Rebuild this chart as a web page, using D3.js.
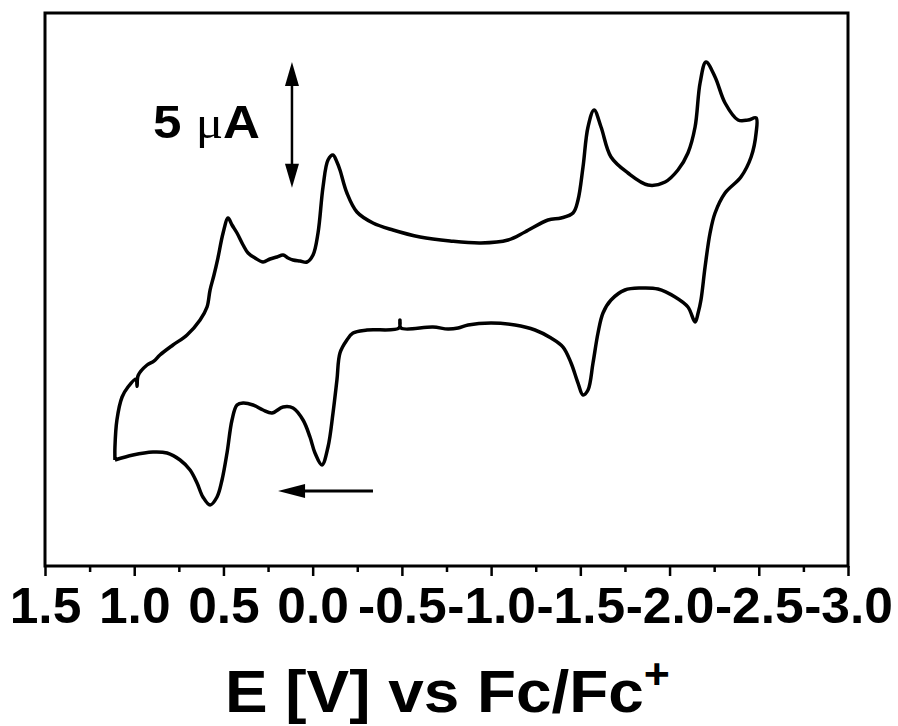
<!DOCTYPE html>
<html>
<head>
<meta charset="utf-8">
<script src="https://cdn.jsdelivr.net/npm/d3@7"></script>
<style>
  html, body { margin: 0; padding: 0; background: #fff; }
  svg { display: block; }
</style>
</head>
<body>
<svg id="chart" width="898" height="726"></svg>
<script>
// Cyclic voltammogram: potential E (V vs Fc/Fc+) and current I (µA)

// Forward sweep (toward negative potentials), upper branch
const forwardE = [1.108, 1.108, 1.097, 1.068, 1.035, 0.990, 0.984, 0.978, 0.928, 0.890, 0.856, 0.783, 0.704,
  0.631, 0.592, 0.575, 0.553, 0.531, 0.502, 0.474, 0.452, 0.424, 0.390,
  0.362, 0.323, 0.278, 0.239, 0.200, 0.166, 0.138, 0.110, 0.071, 0.032,
  -0.002, -0.030, -0.058, -0.086, -0.114, -0.136, -0.153, -0.192, -0.248, -0.338,
  -0.450, -0.602, -0.770, -0.943, -1.095, -1.190, -1.319, -1.392, -1.459, -1.487,
  -1.515, -1.543, -1.577, -1.616, -1.672, -1.767, -1.879, -1.975, -2.047, -2.103,
  -2.143, -2.171, -2.204, -2.255, -2.311, -2.384, -2.440, -2.485];
const forwardI = [-6.783, -6.266, -5.192, -4.277, -3.879, -3.560, -3.850, -3.420, -3.004, -2.850, -2.606, -2.208, -1.810,
  -1.213, -0.696, -0.020, 0.577, 1.253, 2.248, 2.845, 2.566, 2.248, 1.770,
  1.452, 1.253, 1.094, 1.213, 1.293, 1.373, 1.253, 1.174, 1.134, 1.094,
  1.373, 2.248, 4.078, 5.152, 5.351, 5.072, 4.754, 3.839, 3.083, 2.646,
  2.367, 2.089, 1.930, 1.850, 1.969, 2.288, 2.765, 2.845, 3.043, 3.561,
  4.874, 6.465, 7.141, 6.465, 5.271, 4.635, 4.157, 4.277, 4.754, 5.431,
  6.465, 8.215, 9.051, 8.454, 7.420, 6.743, 6.743, 6.823];

// Reverse sweep (back toward positive potentials), lower branch
const reverseE = [-2.485, -2.485, -2.457, -2.400, -2.311, -2.255, -2.227, -2.199, -2.176, -2.160,
  -2.143, -2.103, -2.031, -1.935, -1.840, -1.750, -1.672, -1.627, -1.599, -1.571,
  -1.543, -1.515, -1.487, -1.448, -1.403, -1.336, -1.246, -1.134, -0.999, -0.871,
  -0.815, -0.758, -0.674, -0.495, -0.489, -0.484, -0.305, -0.226, -0.192, -0.153,
  -0.136, -0.114, -0.086, -0.052, -0.013, 0.015, 0.054, 0.110, 0.166, 0.228,
  0.278, 0.334, 0.390, 0.424, 0.452, 0.480, 0.508, 0.536, 0.575, 0.615,
  0.648, 0.687, 0.743, 0.816, 0.895, 1.007, 1.108];
const reverseI = [6.823, 6.226, 5.271, 4.476, 3.839, 3.043, 2.248, 0.895, -0.418, -0.935,
  -1.293, -0.696, -0.298, 0.020, 0.060, -0.020, -0.418, -0.935, -1.731, -2.924,
  -3.998, -4.197, -3.720, -2.924, -2.288, -1.930, -1.611, -1.412, -1.333, -1.412,
  -1.532, -1.571, -1.492, -1.532, -1.213, -1.532, -1.611, -1.731, -2.009, -2.526,
  -3.600, -4.913, -6.266, -6.982, -6.505, -5.868, -5.192, -4.714, -4.675, -4.913,
  -4.794, -4.595, -4.516, -4.595, -5.192, -6.505, -7.579, -8.255, -8.573, -8.255,
  -7.698, -7.181, -6.783, -6.505, -6.465, -6.584, -6.783];

// Axis ticks
const majorTicks = [1.5, 1.0, 0.5, 0.0, -0.5, -1.0, -1.5, -2.0, -2.5, -3.0];
const minorTicks = [1.25, 0.75, 0.25, -0.25, -0.75, -1.25, -1.75, -2.25, -2.75];

// Annotations
const scaleBarCurrent = 5;          // µA
const scaleBarLabel = "5 ";
const axisTitle = "E [V] vs Fc/Fc";
const axisTitleSup = "+";

const svg = d3.select("#chart");
const plotL = 45, plotR = 848, plotT = 13, plotB = 566;

const x = d3.scaleLinear().domain([1.5, -3.0]).range([plotL, plotR]);
const y = d3.scaleLinear().domain([-11, 11]).range([plotB, plotT]);

const sweep = d3.line()
  .x(d => x(d[0]))
  .y(d => y(d[1]))
  .curve(d3.curveCatmullRom.alpha(0.5));

const fwd = forwardE.map((e, i) => [e, forwardI[i]]);
const rev = reverseE.map((e, i) => [e, reverseI[i]]);

svg.append("path")
  .datum(fwd.concat(rev.slice(1)))
  .attr("d", sweep)
  .attr("fill", "none")
  .attr("stroke", "#000")
  .attr("stroke-width", 3.5)
  .attr("stroke-linejoin", "round");

// Frame
svg.append("rect")
  .attr("x", plotL).attr("y", plotT)
  .attr("width", plotR - plotL).attr("height", plotB - plotT)
  .attr("fill", "none").attr("stroke", "#000").attr("stroke-width", 3);

// Bottom axis: major ticks with labels, minor ticks without
const axisMajor = d3.axisBottom(x)
  .tickValues(majorTicks)
  .tickSize(10)
  .tickPadding(12)
  .tickFormat(d => d.toFixed(1));
const gMajor = svg.append("g").attr("transform", `translate(0,${plotB})`).call(axisMajor);
gMajor.select(".domain").remove();
gMajor.selectAll(".tick line").attr("stroke", "#000").attr("stroke-width", 2.5);
gMajor.selectAll(".tick text")
  .attr("fill", "#000")
  .attr("y", null).attr("dy", null)
  .attr("transform", "translate(0,57)")
  .style("font-family", "'Liberation Sans', Arial, sans-serif")
  .style("font-weight", "bold")
  .style("font-size", "50px")
  .each(function () {
    const w = this.getComputedTextLength();
    d3.select(this).attr("textLength", w * 1.03).attr("lengthAdjust", "spacingAndGlyphs");
  });

const axisMinor = d3.axisBottom(x).tickValues(minorTicks).tickSize(6).tickFormat("");
const gMinor = svg.append("g").attr("transform", `translate(0,${plotB})`).call(axisMinor);
gMinor.select(".domain").remove();
gMinor.selectAll(".tick line").attr("stroke", "#000").attr("stroke-width", 2.5);

// Axis title
const title = svg.append("text")
  .attr("x", (plotL + plotR) / 2 + 1)
  .attr("y", 712)
  .attr("text-anchor", "middle")
  .attr("textLength", 445)
  .attr("lengthAdjust", "spacingAndGlyphs")
  .style("font-family", "'Liberation Sans', Arial, sans-serif")
  .style("font-weight", "bold")
  .style("font-size", "60px")
  .text(axisTitle);
title.append("tspan")
  .attr("dy", -24)
  .style("font-size", "42px")
  .text(axisTitleSup);

// Scale bar: vertical double arrow for 5 µA
const barE = 0.116, barTop = 9.05;
const bx = x(barE), by1 = y(barTop), by2 = y(barTop - scaleBarCurrent);
const headL = 24, headW = 7;
svg.append("line")
  .attr("x1", bx).attr("x2", bx)
  .attr("y1", by1 + headL - 2).attr("y2", by2 - headL + 2)
  .attr("stroke", "#000").attr("stroke-width", 2.5);
svg.append("path")
  .attr("d", `M${bx},${by1} L${bx - headW},${by1 + headL} L${bx + headW},${by1 + headL} Z`)
  .attr("fill", "#000");
svg.append("path")
  .attr("d", `M${bx},${by2} L${bx - headW},${by2 - headL} L${bx + headW},${by2 - headL} Z`)
  .attr("fill", "#000");

const lbl = svg.append("text")
  .attr("x", 153).attr("y", 138)
  .attr("textLength", 107)
  .attr("lengthAdjust", "spacingAndGlyphs")
  .style("font-family", "'Liberation Sans', Arial, sans-serif")
  .style("font-weight", "bold")
  .style("font-size", "46px")
  .text(scaleBarLabel);
lbl.append("tspan")
  .style("font-family", "'Liberation Serif', 'Times New Roman', serif")
  .style("font-weight", "normal")
  .text("\u03BC");
lbl.append("tspan").text("A");

// Scan direction arrow
const arrowStartE = -0.338, arrowEndE = 0.194, arrowI = -8.016;
const ax1 = x(arrowStartE), ax2 = x(arrowEndE), ay = y(arrowI);
svg.append("line")
  .attr("x1", ax1).attr("x2", ax2 + 20)
  .attr("y1", ay).attr("y2", ay)
  .attr("stroke", "#000").attr("stroke-width", 3);
svg.append("path")
  .attr("d", `M${ax2},${ay} L${ax2 + 27},${ay - 7} L${ax2 + 27},${ay + 7} Z`)
  .attr("fill", "#000");
</script>
</body>
</html>
